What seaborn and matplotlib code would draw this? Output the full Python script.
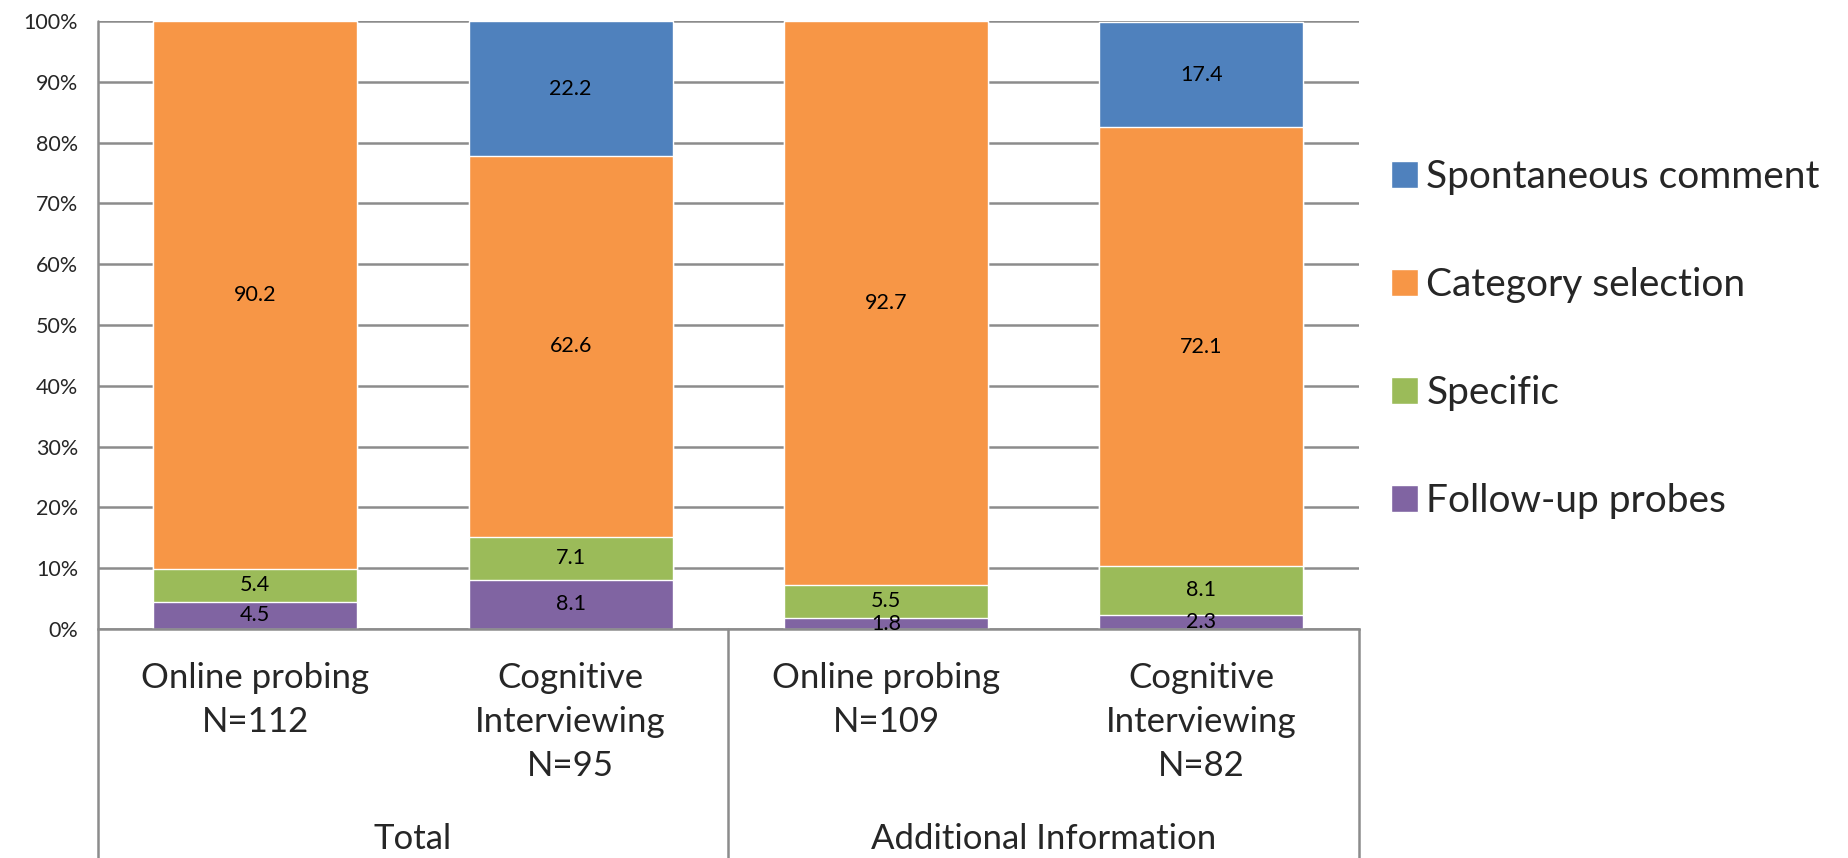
import matplotlib
matplotlib.use("Agg")
import matplotlib.pyplot as plt
import seaborn as sns
import pandas as pd
from matplotlib.patches import Patch

# datos (porcentajes)
categorias = ["Online probing\nN=112", "Cognitive\nInterviewing\nN=95",
              "Online probing\nN=109", "Cognitive\nInterviewing\nN=82"]
grupos = ["Total", "Additional Information"]
follow_up = [4.5, 8.1, 1.8, 2.3]
specific = [5.4, 7.1, 5.5, 8.1]
category_sel = [90.2, 62.6, 92.7, 72.1]
spontaneous = [0, 22.2, 0, 17.4]

series = ["Follow-up probes", "Specific", "Category selection", "Spontaneous comment"]
colores = ["#8064A2", "#9BBB59", "#F79646", "#4F81BD"]
valores = [follow_up, specific, category_sel, spontaneous]

sns.set_style("white")
plt.rcParams["font.family"] = ["Lato", "DejaVu Sans"]

fig = plt.figure(figsize=(18.49, 8.58), dpi=100)
ax = fig.add_axes([0.0528, 0.2669, 0.735 - 0.0528, 0.9755 - 0.2669])

df = pd.DataFrame({"cat": categorias})
acum = [0, 0, 0, 0]
tops = []
for v in valores:
    acum = [a + b for a, b in zip(acum, v)]
    tops.append(list(acum))

# barras acumuladas, se dibujan de la mas alta a la mas baja
for i in range(len(series) - 1, -1, -1):
    df["y"] = [min(t, 100) for t in tops[i]]
    sns.barplot(data=df, x="cat", y="y", color=colores[i], width=0.646,
                saturation=1, ax=ax, order=categorias, zorder=2)

# etiquetas de los segmentos
for i, v in enumerate(valores):
    for j, val in enumerate(v):
        if val == 0:
            continue
        centro = tops[i][j] - val / 2
        ax.text(j, centro, f"{val:.1f}", ha="center", va="center",
                fontsize=15.5, color="black", zorder=4)

ax.set_ylim(0, 100)
ax.set_xlim(-0.5, 3.5)
ax.set_yticks(range(0, 101, 10))
ax.set_yticklabels([f"{t}%" for t in range(0, 101, 10)])
ax.tick_params(axis="y", length=0, pad=14, labelsize=15.5)
ax.tick_params(axis="x", length=0, pad=24, labelsize=25)
ax.set_xticklabels(categorias, linespacing=1.45, va="top")
ax.set_xlabel("")
ax.set_ylabel("")
ax.yaxis.grid(True, color="#8C8C8C", lw=1.8)
ax.set_axisbelow(True)
for s in ["top", "right", "left"]:
    ax.spines[s].set_visible(False)
ax.spines["bottom"].set_color("#8C8C8C")
ax.spines["bottom"].set_linewidth(1.8)
ax.spines["bottom"].set_zorder(3)

# lineas separadoras del eje de categorias
for xp in [0, 0.5, 1]:
    y_top = 1 if xp == 0 else 0
    ax.plot([xp, xp], [y_top, -0.4], transform=ax.transAxes, color="#8C8C8C",
            lw=1.8, clip_on=False, zorder=3)

for k, g in enumerate(grupos):
    ax.text(0.25 + 0.5 * k, -0.345, g, transform=ax.transAxes, ha="center",
            va="center", fontsize=25)

handles = [Patch(facecolor=colores[i], label=series[i]) for i in range(3, -1, -1)]
fig.legend(handles=handles, loc="center left", bbox_to_anchor=(0.744, 0.605),
           frameon=False, fontsize=28, handlelength=0.7, handleheight=0.7,
           handletextpad=0.2, labelspacing=1.85, borderaxespad=0)

fig.savefig("out.png", dpi=100)
